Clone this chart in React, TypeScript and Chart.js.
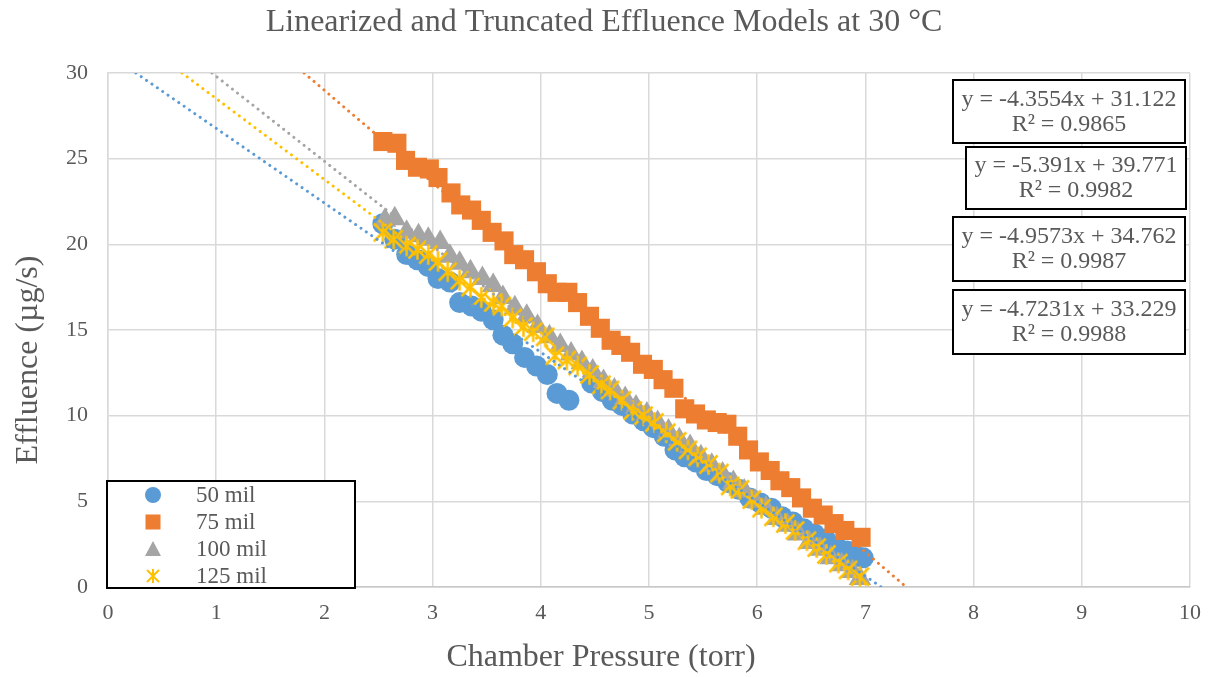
import React, { useEffect, useRef } from "react";
import { Chart, registerables } from "chart.js";

Chart.register(...registerables);

const FONT = '"Liberation Serif", "Times New Roman", serif';
const TEXT = "#595959";

const chartTitle = "Linearized and Truncated Effluence Models at 30 °C";
const xTitle = "Chamber Pressure (torr)";
const yTitle = "Effluence (µg/s)";

const seriesLabels = ["50 mil", "75 mil", "100 mil", "125 mil"];
const seriesColors = ["#5B9BD5", "#ED7D31", "#A5A5A5", "#FFC000"];

const x50 = [2.54, 2.65, 2.76, 2.86, 2.96, 3.05, 3.16, 3.25, 3.36, 3.45, 3.56, 3.65, 3.74, 3.85, 3.96, 4.06, 4.15, 4.26,
  4.47, 4.57, 4.66, 4.75, 4.85, 4.95, 5.04, 5.14, 5.24, 5.33, 5.43, 5.53, 5.63, 5.73, 5.83, 5.93, 6.03, 6.13, 6.23, 6.33, 6.43, 6.53, 6.63, 6.73, 6.83, 6.92, 6.98];
const y50 = [21.2, 20.3, 19.4, 19.1, 18.7, 18.0, 17.8, 16.6, 16.4, 16.1, 15.6, 14.7, 14.2, 13.4, 12.9, 12.4, 11.3, 10.9,
  11.9, 11.4, 10.9, 10.6, 10.1, 9.7, 9.3, 8.8, 8.0, 7.6, 7.3, 6.8, 6.5, 6.1, 5.7, 5.2, 4.9, 4.6, 4.1, 3.8, 3.4, 3.1, 2.8, 2.4, 2.1, 1.8, 1.7];

const x75 = [2.54, 2.67, 2.75, 2.86, 2.97, 3.05, 3.17, 3.26, 3.36, 3.45, 3.55, 3.66, 3.75, 3.85, 3.96, 4.06, 4.15, 4.25, 4.34, 4.45,
  4.55, 4.65, 4.74, 4.83, 4.94, 5.04, 5.13, 5.23, 5.33, 5.43, 5.53, 5.63, 5.72, 5.82, 5.92, 6.02, 6.12, 6.21, 6.31, 6.41, 6.51, 6.61, 6.71, 6.81, 6.96];
const y75 = [26.0, 25.9, 24.9, 24.5, 24.4, 23.9, 23.0, 22.3, 22.0, 21.4, 20.7, 20.2, 19.4, 19.1, 18.4, 17.7, 17.2, 17.2, 16.6, 15.8,
  15.1, 14.4, 14.1, 13.7, 13.0, 12.7, 12.1, 11.6, 10.4, 10.1, 9.75, 9.6, 9.5, 8.8, 8.0, 7.3, 6.8, 6.2, 5.8, 5.2, 4.6, 4.2, 3.7, 3.3, 2.9];

const x100 = [2.56, 2.65, 2.76, 2.87, 2.96, 3.07, 3.16, 3.25, 3.35, 3.46, 3.56, 3.65, 3.76, 3.87, 3.97, 4.08,
  4.18, 4.28, 4.38, 4.48, 4.58, 4.68, 4.78, 4.88, 4.98, 5.08, 5.18, 5.28, 5.38, 5.48, 5.58, 5.68, 5.78, 5.88, 5.98, 6.08, 6.18, 6.28, 6.38, 6.48, 6.58, 6.68, 6.78, 6.88, 6.95];
const y100 = [21.4, 21.5, 20.7, 20.5, 20.3, 20.1, 19.3, 18.9, 18.4, 18.0, 17.6, 16.9, 16.3, 15.8, 15.2, 14.6,
  14.1, 13.6, 13.1, 12.6, 12.0, 11.5, 11.0, 10.5, 10.1, 9.6, 9.1, 8.6, 8.2, 7.6, 7.1, 6.6, 6.1, 5.6, 5.0, 4.6, 4.0, 3.6, 3.1, 2.6, 2.2, 1.7, 1.3, 0.9, 0.5];

const x125 = [2.54, 2.64, 2.76, 2.86, 2.96, 3.05, 3.14, 3.25, 3.35, 3.45, 3.56, 3.64, 3.74, 3.84, 3.93, 4.04, 4.13,
  4.24, 4.34, 4.45, 4.56, 4.64, 4.75, 4.85, 4.95, 5.05, 5.16, 5.26, 5.36, 5.45, 5.55, 5.65, 5.75, 5.84, 5.95, 6.04, 6.15, 6.26, 6.35, 6.46, 6.55, 6.64, 6.75, 6.84, 6.95];
const y125 = [20.7, 20.3, 19.9, 19.7, 19.4, 19.0, 18.4, 17.9, 17.5, 16.9, 16.6, 16.4, 15.7, 15.2, 14.9, 14.6, 13.5,
  13.25, 12.9, 12.4, 11.8, 11.5, 10.9, 10.3, 10.0, 9.6, 9.0, 8.5, 8.0, 7.6, 7.15, 6.65, 5.9, 5.7, 5.1, 4.6, 4.1, 3.7, 3.3, 2.7, 2.3, 1.9, 1.4, 1.0, 0.6];

const trendSlopes = [-4.3554, -5.391, -4.9573, -4.7231];
const trendIntercepts = [31.122, 39.771, 34.762, 33.229];
const trendR2 = ["0.9865", "0.9982", "0.9987", "0.9988"];

const xMin = 0, xMax = 10, xStep = 1;
const yMin = 0, yMax = 30, yStep = 5;

const seriesX = [x50, x75, x100, x125];
const seriesY = [y50, y75, y100, y125];

// layout of the equation labels (pixels)
const eqBoxes = [
  { x: 953, y: 80, w: 232, h: 63 },
  { x: 966, y: 147, w: 220, h: 62 },
  { x: 953, y: 217, w: 232, h: 64 },
  { x: 953, y: 290, w: 232, h: 64 },
];

function makeStar(size: number, color: string, lw: number) {
  const c = document.createElement("canvas");
  c.width = size;
  c.height = size;
  const g = c.getContext("2d")!;
  g.strokeStyle = color;
  g.lineWidth = lw;
  g.lineCap = "butt";
  const m = size / 2;
  const a = lw;
  g.beginPath();
  g.moveTo(m, a * 0.5);
  g.lineTo(m, size - a * 0.5);
  g.moveTo(a, a);
  g.lineTo(size - a, size - a);
  g.moveTo(size - a, a);
  g.lineTo(a, size - a);
  g.stroke();
  return c;
}

function drawMarker(ctx: CanvasRenderingContext2D, i: number, x: number, y: number, star: HTMLCanvasElement) {
  ctx.fillStyle = seriesColors[i];
  if (i === 0) {
    ctx.beginPath();
    ctx.arc(x, y, 8, 0, Math.PI * 2);
    ctx.fill();
  } else if (i === 1) {
    ctx.fillRect(x - 7.5, y - 7.5, 15, 15);
  } else if (i === 2) {
    ctx.beginPath();
    ctx.moveTo(x, y - 8);
    ctx.lineTo(x + 8, y + 7);
    ctx.lineTo(x - 8, y + 7);
    ctx.closePath();
    ctx.fill();
  } else {
    ctx.drawImage(star, x - star.width / 2, y - star.height / 2);
  }
}

export default function App() {
  const ref = useRef<HTMLCanvasElement | null>(null);

  useEffect(() => {
    if (!ref.current) return;
    const star = makeStar(23, seriesColors[3], 2.5);
    const legendStar = makeStar(16, seriesColors[3], 2);

    const scatterSets = seriesLabels.map((label, i) => ({
      type: "scatter" as const,
      label,
      data: seriesX[i].map((x, k) => ({ x, y: seriesY[i][k] })),
      backgroundColor: seriesColors[i],
      borderColor: seriesColors[i],
      borderWidth: 0,
      pointStyle: (i === 0 ? "circle" : i === 1 ? "rect" : i === 2 ? "triangle" : star) as any,
      pointRadius: i === 0 ? 10.5 : i === 1 ? 13.5 : i === 2 ? 13 : 11,
      order: 4 - i,
    }));

    const trendSets = seriesLabels.map((label, i) => {
      const m = trendSlopes[i];
      const b = trendIntercepts[i];
      const xTop = (yMax - b) / m;
      const xZero = (yMin - b) / m;
      return {
        type: "line" as const,
        label: label + " trend",
        data: [
          { x: Math.max(xTop, xMin), y: m * Math.max(xTop, xMin) + b },
          { x: xZero, y: yMin },
        ],
        borderColor: seriesColors[i],
        borderWidth: 3,
        borderDash: [0.01, 6.5],
        borderCapStyle: "round" as const,
        pointRadius: 0,
        fill: false,
        showLine: true,
        order: 0,
      };
    });

    const overlay = {
      id: "overlay",
      afterDraw(chart: any) {
        const ctx: CanvasRenderingContext2D = chart.ctx;
        ctx.save();
        ctx.fillStyle = TEXT;
        ctx.textAlign = "center";
        ctx.textBaseline = "middle";
        ctx.font = `32px ${FONT}`;
        ctx.fillText(chartTitle, 604, 23);
        ctx.fillText(xTitle, 601, 658);
        ctx.save();
        ctx.translate(29, 360);
        ctx.rotate(-Math.PI / 2);
        ctx.fillText(yTitle, 0, 0);
        ctx.restore();

        // equation boxes
        ctx.font = `24px ${FONT}`;
        eqBoxes.forEach((bx, i) => {
          ctx.fillStyle = "#ffffff";
          ctx.fillRect(bx.x, bx.y, bx.w, bx.h);
          ctx.strokeStyle = "#000000";
          ctx.lineWidth = 2;
          ctx.strokeRect(bx.x, bx.y, bx.w, bx.h);
          ctx.fillStyle = TEXT;
          const cx = bx.x + bx.w / 2;
          const eq = `y = ${trendSlopes[i]}x + ${trendIntercepts[i]}`;
          ctx.fillText(eq, cx, bx.y + bx.h / 2 - 12);
          ctx.fillText(`R² = ${trendR2[i]}`, cx, bx.y + bx.h / 2 + 13);
        });

        // legend
        const lx = 107, ly = 481, lw = 248, lh = 107;
        ctx.fillStyle = "#ffffff";
        ctx.fillRect(lx, ly, lw, lh);
        ctx.strokeStyle = "#000000";
        ctx.lineWidth = 2;
        ctx.strokeRect(lx, ly, lw, lh);
        ctx.font = `23px ${FONT}`;
        ctx.textAlign = "left";
        seriesLabels.forEach((label, i) => {
          const y = 495 + i * 27;
          drawMarker(ctx, i, 153, y, legendStar);
          ctx.fillStyle = TEXT;
          ctx.fillText(label, 196, y + 1);
        });
        ctx.restore();
      },
    };

    const chart = new Chart(ref.current, {
      type: "scatter",
      data: { datasets: [...trendSets, ...scatterSets] as any },
      options: {
        animation: false,
        responsive: false,
        layout: { padding: { top: 73, right: 24, left: 0, bottom: 0 } },
        plugins: {
          legend: { display: false },
          title: { display: false },
          tooltip: { enabled: false },
        },
        scales: {
          x: {
            type: "linear",
            min: xMin,
            max: xMax,
            ticks: { stepSize: xStep, color: TEXT, font: { family: FONT, size: 22 }, padding: 13 },
            grid: { color: "#d9d9d9", lineWidth: 1.5, drawTicks: false },
            border: { color: "#c8c8c8", width: 1.5 },
            afterFit: (s: any) => { s.height = 90; },
          },
          y: {
            type: "linear",
            min: yMin,
            max: yMax,
            ticks: { stepSize: yStep, color: TEXT, font: { family: FONT, size: 22 }, padding: 20 },
            grid: { color: "#d9d9d9", lineWidth: 1.5, drawTicks: false },
            border: { color: "#d9d9d9", width: 1.5 },
            afterFit: (s: any) => { s.width = 108; },
          },
        },
      } as any,
      plugins: [overlay],
    });
    return () => chart.destroy();
  }, []);

  return (
    <div style={{ position: "absolute", left: 0, top: 0, width: 1214, height: 677, background: "#fff" }}>
      <canvas ref={ref} width={1214} height={677} style={{ display: "block" }} />
    </div>
  );
}
